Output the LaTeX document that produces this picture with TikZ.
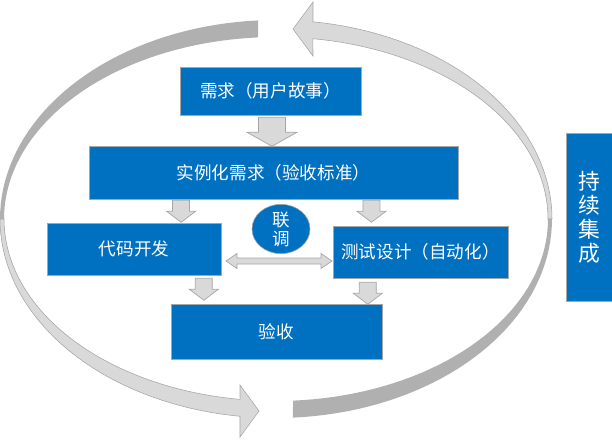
\documentclass[tikz,border=0pt]{standalone}
\usepackage{fontspec}
\setmainfont{Noto Sans CJK SC}
\usetikzlibrary{shapes.geometric,calc}
\definecolor{boxblue}{HTML}{0070C0}
\definecolor{arrowgrey}{HTML}{D9D9D9}
\definecolor{bandgrey}{HTML}{B0B0B0}
\definecolor{edgegrey}{HTML}{A6A6A6}
\tikzset{
	bigdown/.pic = {\filldraw[blockarrow] (-13.5,0) -- (13.5,0) -- (13.5,15) -- (25,15) -- (0,29) -- (-25,15) -- (-13.5,15) -- cycle;},
	smalldown/.pic = {\filldraw[blockarrow] (-8.5,0) -- (8.5,0) -- (8.5,11) -- (14.5,11) -- (0,22) -- (-14.5,11) -- (-8.5,11) -- cycle;},
	bothways/.pic = {\filldraw[blockarrow] (-53,0) -- (-42,-7.5) -- (-42,-3) -- (42,-3) -- (42,-7.5) -- (53,0) -- (42,7.5) -- (42,3) -- (-42,3) -- (-42,7.5) -- cycle;}
}
\begin{document}
\begin{tikzpicture}[x=0.025cm, y=-0.025cm,
	box/.style = {draw=edgegrey, fill=boxblue, text=white, inner sep=0pt, font=\fontsize{12.5}{15}\selectfont},
	blockarrow/.style = {draw=edgegrey, line width=0.5pt, fill=arrowgrey},
	cyclearrow/.style = {draw=edgegrey, line width=0.4pt, fill=arrowgrey},
	cycleband/.style = {fill=bandgrey}]
	\useasboundingbox (0,0) rectangle (612,441);
	% cycle round the boxes
	\fill[cycleband] plot[domain=0:-86.5, samples=40] ({276+276*cos(\x)},{219-199*sin(\x)}) -- plot[domain=-86.4:0, samples=40] ({276+272*cos(\x)},{219-182*sin(\x)}) -- cycle;
	\fill[cycleband] plot[domain=93.7:180, samples=40] ({276+276*cos(\x)},{219-199*sin(\x)}) -- plot[domain=180:93.8, samples=40] ({276+272*cos(\x)},{219-182*sin(\x)}) -- cycle;
	\filldraw[cyclearrow] plot[domain=0:82.3, samples=40] ({276+276*cos(\x)},{219-199*sin(\x)}) -- (313,2) -- (293,29) -- (313,56) -- plot[domain=82.2:0, samples=40] ({276+272*cos(\x)},{219-182*sin(\x)}) -- cycle;
	\filldraw[cyclearrow] plot[domain=180:262.5, samples=40] ({276+276*cos(\x)},{219-199*sin(\x)}) -- (240,437) -- (259,411) -- (240,385) -- plot[domain=262.4:180, samples=40] ({276+272*cos(\x)},{219-182*sin(\x)}) -- cycle;
	% boxes
	\node[box, minimum width=4.525cm, minimum height=1.2cm] (req) at (270.5,91) {需求（用户故事）};
	\node[box, minimum width=9.225cm, minimum height=1.325cm] (spec) at (273.5,172.5) {实例化需求（验收标准）};
	\node[box, minimum width=4.35cm, minimum height=1.3cm] (dev) at (134,249) {代码开发};
	\node[box, minimum width=4.375cm, minimum height=1.3cm] (test) at (420.5,252) {测试设计（自动化）};
	\node[box, minimum width=5.275cm, minimum height=1.375cm] (acc) at (276.5,331.5) {验收};
	\node[box, ellipse, minimum width=1.45cm, minimum height=1.2cm, align=center, font=\fontsize{12.5}{13.5}\selectfont] (link) at (281,229) {联\\调};
	\node[box, minimum width=1.15cm, minimum height=4.2cm, align=center, font=\fontsize{15.5}{17}\selectfont] (ci) at (589,217) {持\\续\\集\\成};
	% arrows between boxes
	\pic (a1) at ($(req.south)+(1.5,2)$) {bigdown};
	\pic (a2) at ($($(spec.south west)!0.25!(spec.south east)$)+(0,1)$) {smalldown};
	\pic (a3) at ($($(spec.south west)!0.765!(spec.south east)$)+(0,1)$) {smalldown};
	\pic (a4) at ($($(dev.south west)!0.9!(dev.south east)$)+(0,3)$) {smalldown};
	\pic (a5) at ($($(test.south west)!0.2!(test.south east)$)+(0,4)$) {smalldown};
	\pic (a6) at ($($(dev.east)!0.5!(test.west)$)+(2,10.5)$) {bothways};
\end{tikzpicture}
\end{document}
